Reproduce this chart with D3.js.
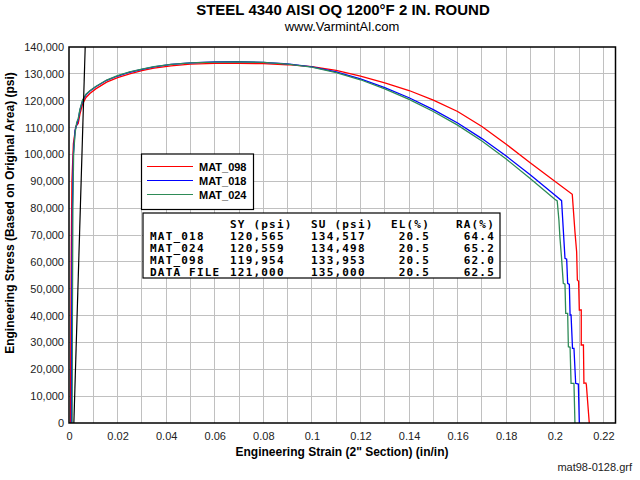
<!DOCTYPE html>
<html><head><meta charset="utf-8">
<script src="https://cdn.jsdelivr.net/npm/d3@7"></script>
<style>
body{margin:0;background:#fff;}
svg{display:block;font-family:"Liberation Sans",Arial,sans-serif;}
</style></head>
<body>
<svg id="chart" width="640" height="480"></svg>
<script>
// ---------- DATA ----------
const titleText = "STEEL 4340 AISI OQ 1200°F 2 IN. ROUND";
const subtitleText = "www.VarmintAl.com";
const xTickValues = [0,0.02,0.04,0.06,0.08,0.1,0.12,0.14,0.16,0.18,0.2,0.22];
const xTickLabels = ["0","0.02","0.04","0.06","0.08","0.1","0.12","0.14","0.16","0.18","0.2","0.22"];
const yTickValues = [0,10000,20000,30000,40000,50000,60000,70000,80000,90000,100000,110000,120000,130000,140000];
const yTickLabels = ["0","10,000","20,000","30,000","40,000","50,000","60,000","70,000","80,000","90,000","100,000","110,000","120,000","130,000","140,000"];

const seriesNames = ["MAT_098","MAT_018","MAT_024"];

const mat098Strain = [0.0006,0.0007,0.0009,0.0012,0.0018,0.0028,0.0038,0.0045,0.0056,0.007,0.0086,0.011,0.0155,0.02,0.025,0.03,0.035,0.042,0.05,0.06,0.07,0.08,0.09,0.1,0.11,0.12,0.13,0.14,0.15,0.16,0.17,0.18,0.19,0.2,0.2072,0.2083,0.2090,0.2093,0.2098,0.2101,0.2109,0.2109,0.2118,0.2120,0.2128,0.2130,0.2142];
const mat098Stress = [0,20000,60000,90000,104000,110500,111500,115000,118800,121200,122700,124400,126900,128600,130000,131200,132100,133000,133600,133900,133953,133800,133400,132700,131300,129200,126600,123800,120200,116000,110400,103800,96800,90000,85140,71240,63790,53245,52800,42075,42075,29040,29040,14770,14900,14300,0];

const mat018Strain = [0.0010,0.0011,0.0014,0.0018,0.0025,0.0038,0.0045,0.0056,0.007,0.0086,0.011,0.0155,0.02,0.025,0.03,0.035,0.042,0.05,0.06,0.07,0.08,0.09,0.1,0.11,0.12,0.13,0.14,0.15,0.16,0.17,0.18,0.19,0.2,0.2028,0.2042,0.2049,0.2053,0.2060,0.2063,0.2067,0.2073,0.2079,0.2086,0.2097,0.2101];
const mat018Stress = [0,40000,80000,100000,109000,113000,116500,120000,122200,123600,125200,127600,129200,130600,131700,132600,133500,134100,134450,134517,134300,133700,132600,130700,128100,124900,121100,116700,111700,105900,99400,92300,84900,82780,61310,61000,52010,51600,40210,40210,27800,27800,14770,14500,0];

const mat024Strain = [0.0013,0.0014,0.0016,0.0019,0.0025,0.0032,0.0038,0.0045,0.0056,0.007,0.0086,0.011,0.0155,0.02,0.025,0.03,0.035,0.042,0.05,0.06,0.07,0.08,0.09,0.1,0.11,0.12,0.13,0.14,0.15,0.16,0.17,0.18,0.19,0.2,0.2010,0.2017,0.2021,0.2028,0.2035,0.2042,0.2045,0.2053,0.2056,0.2063,0.2067,0.2079,0.2083];
const mat024Stress = [0,40000,80000,100000,108000,112000,113300,116800,120300,122400,123700,125300,127700,129300,130700,131800,132700,133500,134100,134400,134498,134250,133600,132500,130500,127800,124400,120500,116000,110900,105000,98300,90900,83300,82700,75590,69370,61310,52010,51700,40830,40830,28420,28200,14770,14770,0];

const offsetStrain = [0.002, 0.006667];
const offsetStress = [0, 140000];

const tableHeader = ["", "SY (psi)", "SU (psi)", "EL(%)", "RA(%)"];
const tableRowNames = ["MAT_018","MAT_024","MAT_098","DATA FILE"];
const tableSY = ["120,565","120,559","119,954","121,000"];
const tableSU = ["134,517","134,498","133,953","135,000"];
const tableEL = ["20.5","20.5","20.5","20.5"];
const tableRA = ["64.4","65.2","62.0","62.5"];

// ---------- LAYOUT ----------
const svg = d3.select("#chart");
const L = 69, R = 615.5, T = 47, B = 423;
const x = d3.scaleLinear().domain([0, 0.225]).range([L, R]);
const y = d3.scaleLinear().domain([0, 140000]).range([B, T]);
const color = d3.scaleOrdinal().domain(seriesNames).range(["#ff0000","#0000ff","#2e8b57"]);

// grid
const gridX = d3.range(1, 23).map(i => i * 0.01);
svg.append("g").selectAll("line").data(gridX).join("line")
  .attr("x1", d => x(d)).attr("x2", d => x(d)).attr("y1", T).attr("y2", B)
  .attr("stroke", "#c0c0c0").attr("stroke-width", 1).attr("shape-rendering","crispEdges");
svg.append("g").selectAll("line").data(yTickValues.slice(1, -1)).join("line")
  .attr("y1", d => y(d)).attr("y2", d => y(d)).attr("x1", L).attr("x2", R)
  .attr("stroke", "#c0c0c0").attr("stroke-width", 1).attr("shape-rendering","crispEdges");

// axes (labels only)
const xAxis = d3.axisBottom(x).tickValues(xTickValues).tickSize(0).tickPadding(9)
  .tickFormat((d, i) => xTickLabels[i]);
const gx = svg.append("g").attr("transform", `translate(0,${B})`).call(xAxis);
gx.select(".domain").remove();
gx.selectAll("text").attr("font-size", 11).attr("fill", "#222").attr("font-family", "Liberation Sans, Arial, sans-serif");

const yAxis = d3.axisLeft(y).tickValues(yTickValues).tickSize(0).tickPadding(5)
  .tickFormat((d, i) => yTickLabels[i]);
const gy = svg.append("g").attr("transform", `translate(${L},0)`).call(yAxis);
gy.select(".domain").remove();
gy.selectAll("text").attr("font-size", 11).attr("fill", "#222").attr("font-family", "Liberation Sans, Arial, sans-serif");

// clip
svg.append("clipPath").attr("id", "plotclip").append("rect")
  .attr("x", L).attr("y", T).attr("width", R - L).attr("height", B - T);

const line = d3.line().x(d => x(d[0])).y(d => y(d[1]));
const series = [
  {name: "MAT_098", xs: mat098Strain, ys: mat098Stress},
  {name: "MAT_018", xs: mat018Strain, ys: mat018Stress},
  {name: "MAT_024", xs: mat024Strain, ys: mat024Stress}
];
const plotG = svg.append("g").attr("clip-path", "url(#plotclip)");
series.forEach(s => {
  plotG.append("path").datum(s.xs.map((v, i) => [v, s.ys[i]]))
    .attr("d", line).attr("fill", "none").attr("stroke", color(s.name)).attr("stroke-width", 1.3);
});
plotG.append("path").datum(offsetStrain.map((v, i) => [v, offsetStress[i]]))
  .attr("d", line).attr("fill", "none").attr("stroke", "#000").attr("stroke-width", 1.2);

// frame
svg.append("rect").attr("x", L).attr("y", T).attr("width", R - L).attr("height", B - T)
  .attr("fill", "none").attr("stroke", "#000").attr("stroke-width", 1.5);

// titles
svg.append("text").attr("x", 343).attr("y", 15).attr("text-anchor", "middle")
  .attr("font-size", 15).attr("font-weight", "bold").attr("fill", "#000").text(titleText);
svg.append("text").attr("x", 342).attr("y", 31).attr("text-anchor", "middle")
  .attr("font-size", 13).attr("fill", "#000").text(subtitleText);
svg.append("text").attr("x", 342).attr("y", 456).attr("text-anchor", "middle")
  .attr("font-size", 12).attr("font-weight", "bold").attr("fill", "#000")
  .text("Engineering Strain (2\" Section) (in/in)");
svg.append("text").attr("transform", "translate(14,213) rotate(-90)").attr("text-anchor", "middle")
  .attr("font-size", 12).attr("font-weight", "bold").attr("fill", "#000")
  .text("Engineering Stress (Based on Original Area) (psi)");
svg.append("text").attr("x", 632).attr("y", 471).attr("text-anchor", "end")
  .attr("font-size", 11).attr("fill", "#222").text("mat98-0128.grf");

// legend
const lg = svg.append("g");
lg.append("rect").attr("x", 141.5).attr("y", 154).attr("width", 112).attr("height", 55.5)
  .attr("fill", "#fff").attr("stroke", "#000").attr("stroke-width", 1.2);
seriesNames.forEach((n, i) => {
  const yy = 166.5 + i * 14;
  lg.append("line").attr("x1", 147).attr("x2", 193).attr("y1", yy).attr("y2", yy)
    .attr("stroke", color(n)).attr("stroke-width", 1.2);
  lg.append("text").attr("x", 199).attr("y", yy + 4).attr("font-size", 11).attr("font-weight", "bold")
    .attr("fill", "#000").text(n);
});

// table
const tg = svg.append("g").attr("font-family", "DejaVu Sans Mono, Liberation Mono, monospace")
  .attr("font-weight", "bold").attr("font-size", 11).attr("letter-spacing", "1.2px").attr("fill", "#000");
tg.append("rect").attr("x", 143).attr("y", 213).attr("width", 357).attr("height", 65)
  .attr("fill", "#fff").attr("stroke", "#000").attr("stroke-width", 1.2);
const rowY = i => 228 + i * 12;
tg.append("text").attr("x", 230).attr("y", rowY(0)).text(tableHeader[1]);
tg.append("text").attr("x", 311).attr("y", rowY(0)).text(tableHeader[2]);
tg.append("text").attr("x", 430).attr("y", rowY(0)).attr("text-anchor", "end").text(tableHeader[3]);
tg.append("text").attr("x", 495).attr("y", rowY(0)).attr("text-anchor", "end").text(tableHeader[4]);
tableRowNames.forEach((n, i) => {
  const yy = rowY(i + 1);
  tg.append("text").attr("x", 150).attr("y", yy).text(n);
  tg.append("text").attr("x", 230).attr("y", yy).text(tableSY[i]);
  tg.append("text").attr("x", 311).attr("y", yy).text(tableSU[i]);
  tg.append("text").attr("x", 430).attr("y", yy).attr("text-anchor", "end").text(tableEL[i]);
  tg.append("text").attr("x", 495).attr("y", yy).attr("text-anchor", "end").text(tableRA[i]);
});
</script>
</body></html>
